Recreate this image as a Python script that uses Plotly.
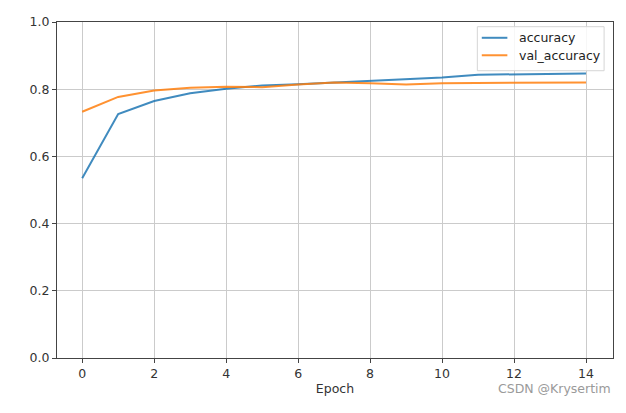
import plotly.graph_objects as go

# training history
epochs = list(range(15))
accuracy = [0.535, 0.726, 0.765, 0.788, 0.801, 0.811, 0.815, 0.820,
            0.826, 0.831, 0.835, 0.843, 0.844, 0.845, 0.847]
val_accuracy = [0.733, 0.777, 0.796, 0.804, 0.807, 0.806, 0.814, 0.820,
                0.818, 0.814, 0.818, 0.819, 0.820, 0.820, 0.820]
series_names = ["accuracy", "val_accuracy"]
x_ticks = [0, 2, 4, 6, 8, 10, 12, 14]
y_ticks = [0.0, 0.2, 0.4, 0.6, 0.8, 1.0]

BLUE = "#1f77b4"
ORANGE = "#ff7f0e"
GRID = "#cbcbcb"
AXIS = "#444444"
FONT = "DejaVu Sans, sans-serif"
colors = [BLUE, ORANGE]

fig = go.Figure()
for name, ys, col in zip(series_names, [accuracy, val_accuracy], colors):
    fig.add_trace(go.Scatter(
        x=epochs, y=ys, name=name, mode="lines",
        line=dict(color=col, width=2), opacity=0.85,
    ))

axis_common = dict(
    showline=True, linecolor=AXIS, linewidth=1.2, mirror=True,
    showgrid=True, gridcolor=GRID, gridwidth=1, zeroline=False,
    ticks="outside", ticklen=4, tickcolor=AXIS,
    tickfont=dict(size=12.5, color="#333333"),
)

fig.update_layout(
    width=626, height=413,
    paper_bgcolor="white", plot_bgcolor="white",
    font=dict(family=FONT, size=12.5, color="#333333"),
    margin=dict(l=57, r=13, t=22, b=55),
    xaxis=dict(range=[-0.7, 14.75], tickvals=x_ticks,
               title=dict(text="Epoch", font=dict(size=12.5), standoff=4),
               **axis_common),
    yaxis=dict(range=[0, 1], tickvals=y_ticks, tickformat=".1f", **axis_common),
    showlegend=False,
)

# matplotlib-style legend box drawn by hand (plotly's own legend is too tall here)
fig.add_shape(type="rect", xref="paper", yref="paper",
              x0=0.756, x1=0.984, y0=0.855, y1=0.986,
              line=dict(color="#d5d5d5", width=1),
              fillcolor="rgba(255,255,255,0.85)")
for i, (name, col) in enumerate(zip(series_names, colors)):
    yy = 0.953 - i * 0.052
    fig.add_shape(type="line", xref="paper", yref="paper",
                  x0=0.764, x1=0.810, y0=yy, y1=yy,
                  line=dict(color=col, width=2), opacity=0.85)
    fig.add_annotation(text=name, xref="paper", yref="paper",
                       x=0.827, y=yy, xanchor="left", yanchor="middle",
                       showarrow=False, font=dict(size=12.5, color="#222222"))

fig.add_annotation(
    text="CSDN @Krysertim", xref="paper", yref="paper",
    x=1.0, y=-0.09, xanchor="right", yanchor="middle", showarrow=False,
    font=dict(size=12.5, color="#9a9a9a", family=FONT),
)

# drop the page's default body margin so the chart sits at the window's corner
fig.write_html("out.html", config={"displayModeBar": False},
               post_script="document.body.style.margin='0';")
